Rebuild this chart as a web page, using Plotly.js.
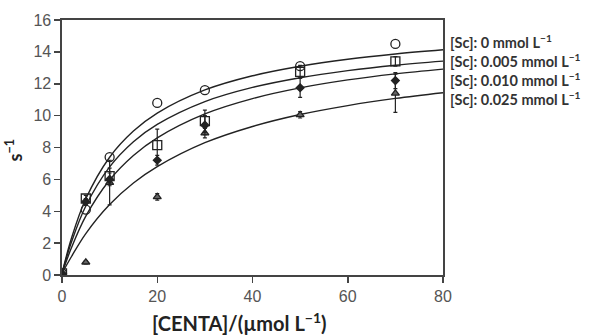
<!DOCTYPE html>
<html>
<head>
<meta charset="utf-8">
<script src="https://cdn.plot.ly/plotly-3.0.1.min.js"></script>
<style>html,body{margin:0;padding:0;background:#fff;}#chart{width:592px;height:335px;}</style>
</head>
<body>
<div id="chart"></div>
<script>
// Measured concentrations (µmol/L)
const xData = [0, 5, 10, 20, 30, 50, 70];
// Rates (s^-1) per [Sc] level
const y0 = [0.1, 4.1, 7.4, 10.8, 11.6, 13.1, 14.5];
const y005 = [0.1, 4.8, 6.2, 8.15, 9.65, 12.75, 13.4];
const e005 = [0, 0.2, 0.5, 1.0, 0.7, 0.4, 0.3];
const y010 = [0.1, 4.6, 6.0, 7.2, 9.4, 11.75, 12.2];
const e010 = [0, 0.2, 0.4, 0.3, 0.6, 0.6, 0.5];
const y025 = [0.1, 0.8, 5.8, 4.9, 8.9, 10.05, 11.4];
const e025 = [0, 0.1, 1.4, 0.2, 0.3, 0.2, 1.2];

// Fitted curves
const xFit = [0, 2, 5, 10, 15, 20, 30, 40, 50, 60, 70, 80];
const f0 = [0.1, 2.32, 4.78, 7.39, 9.03, 10.16, 11.61, 12.5, 13.1, 13.54, 13.87, 14.13];
const f005 = [0.1, 2.08, 4.33, 6.78, 8.36, 9.45, 10.88, 11.77, 12.38, 12.82, 13.16, 13.42];
const f010 = [0.1, 1.72, 3.69, 5.96, 7.5, 8.61, 10.11, 11.07, 11.74, 12.24, 12.62, 12.92];
const f025 = [0.1, 1.16, 2.6, 4.42, 5.77, 6.8, 8.3, 9.32, 10.07, 10.63, 11.08, 11.44];

const labels = ["[Sc]: 0 mmol L<sup>−1</sup>", "[Sc]: 0.005 mmol L<sup>−1</sup>", "[Sc]: 0.010 mmol L<sup>−1</sup>", "[Sc]: 0.025 mmol L<sup>−1</sup>"];
const labelY = [14.64, 13.44, 12.25, 11.06];
const xTitle = '[CENTA]/(µmol L<sup>−1</sup>)';
const yTitle = 's<sup>−1</sup>';

const ink = '#222';
function fitTrace(y) {
  return {x: xFit, y: y, mode: 'lines', line: {color: ink, width: 1.4, shape: 'spline'}, hoverinfo: 'skip', showlegend: false};
}
function ptTrace(y, e, sym, size, fill) {
  return {x: xData, y: y, mode: 'markers', showlegend: false,
    error_y: {type: 'data', array: e, visible: true, color: ink, thickness: 1.2, width: 2},
    marker: {symbol: sym, size: size, color: fill, line: {color: ink, width: 1.3}}};
}
const data = [
  fitTrace(f0), fitTrace(f005), fitTrace(f010), fitTrace(f025),
  ptTrace(y025, e025, 'triangle-up', 7, '#666'),
  ptTrace(y010, e010, 'diamond', 6, ink),
  ptTrace(y005, e005, 'square-open', 9, ink),
  {x: xData, y: y0, mode: 'markers', showlegend: false, marker: {symbol: 'circle-open', size: 9, color: ink, line: {color: ink, width: 1.3}}}
];

const lblFont = {family: 'Lato, Open Sans, sans-serif', size: 14.5, color: '#333', weight: 'bold'};
const annotations = labels.map((t, i) => ({
  xref: 'paper', yref: 'y', x: 1.012, y: labelY[i], xanchor: 'left', yanchor: 'middle',
  text: t, showarrow: false, font: lblFont
}));
annotations.push({xref: 'paper', yref: 'paper', x: 0.467, y: -0.185, xanchor: 'center', yanchor: 'middle',
  text: xTitle, showarrow: false, font: {family: 'Lato, Open Sans, sans-serif', size: 20, color: '#222', weight: 'bold'}});
annotations.push({xref: 'paper', yref: 'paper', x: -0.125, y: 0.49, xanchor: 'center', yanchor: 'middle', textangle: -90,
  text: yTitle, showarrow: false, font: {family: 'Lato, Open Sans, sans-serif', size: 18, color: '#222', weight: 'bold'}});

const layout = {
  width: 592, height: 335,
  margin: {l: 62, r: 149, t: 20, b: 60},
  paper_bgcolor: '#fff', plot_bgcolor: '#fff',
  font: {family: 'Liberation Sans, Arial, sans-serif', color: '#555', size: 16},
  xaxis: {range: [0, 80], tickvals: [0, 20, 40, 60, 80], ticks: 'outside', ticklen: 6, tickwidth: 1.5, tickcolor: '#444',
    showline: true, mirror: true, linecolor: '#444', linewidth: 1.6, showgrid: false, zeroline: false,
    tickfont: {size: 16, color: '#555'}},
  yaxis: {range: [0, 16], tickvals: [0, 2, 4, 6, 8, 10, 12, 14, 16], ticks: 'outside', ticklen: 6, tickwidth: 1.5, tickcolor: '#444',
    showline: true, mirror: true, linecolor: '#444', linewidth: 1.6, showgrid: false, zeroline: false,
    tickfont: {size: 16, color: '#555'}},
  annotations: annotations,
  showlegend: false
};
Plotly.newPlot('chart', data, layout, {displayModeBar: false, staticPlot: true});
</script>
</body>
</html>
